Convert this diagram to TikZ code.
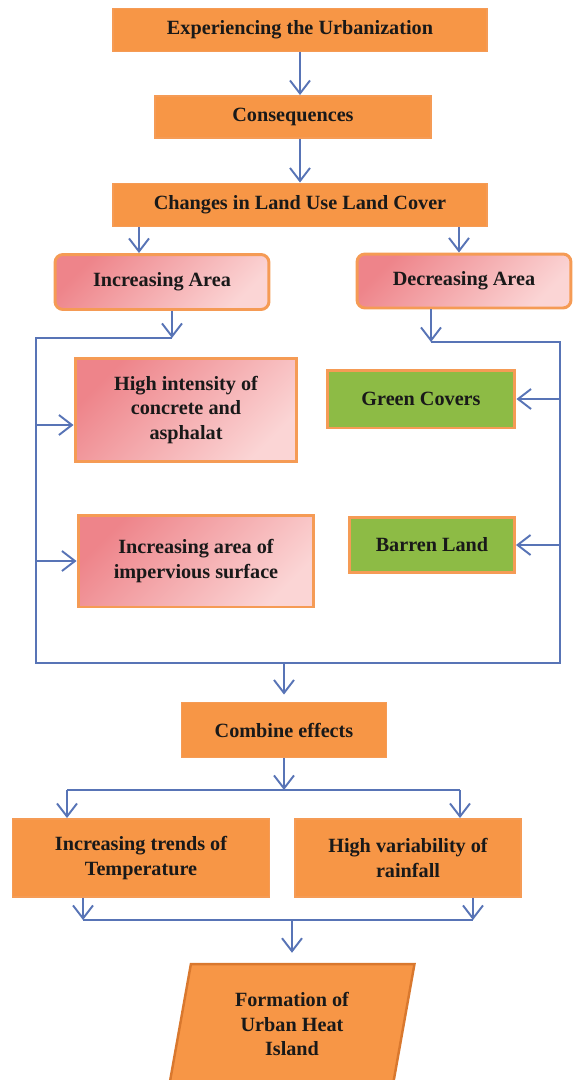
\documentclass[tikz,border=0pt]{standalone}
\usepackage{fontspec}
\setmainfont{Liberation Serif}
\usetikzlibrary{arrows.meta,shapes.geometric}
\definecolor{uhiorange}{HTML}{F79646}
\definecolor{uhiedge}{HTML}{F59B55}
\definecolor{uhidark}{HTML}{D9782E}
\definecolor{uhipinkA}{HTML}{EE848A}
\definecolor{uhipinkB}{HTML}{FBD5D5}
\definecolor{uhigreen}{HTML}{8DBB45}
\definecolor{uhiblue}{HTML}{5874B6}
\tikzset{
    uhibox/.style={draw=uhiedge, line width=1.1pt, fill=uhiorange, align=center,
        font=\bfseries\fontsize{11.5}{13.8}\selectfont, text=black!90, inner sep=2pt},
    pinkbox/.style={uhibox, line width=1.7pt, left color=uhipinkA, right color=uhipinkB,
        shading angle=45},
    greenbox/.style={uhibox, line width=1.7pt, fill=uhigreen},
    uhiarrow/.style={-{Straight Barb[length=2.6mm,width=4mm]}, draw=uhiblue, line width=1.1pt},
    uhiline/.style={draw=uhiblue, line width=1.1pt}
}

\begin{document}
\begin{tikzpicture}[x=0.02cm, y=-0.02cm]
\useasboundingbox (0,0) rectangle (574,1080);
% chain at the top
\node[uhibox, minimum width=7.5cm, minimum height=0.86cm] (urban) at (300,30) {Experiencing the Urbanization};
\node[uhibox, minimum width=5.52cm, minimum height=0.84cm] (conseq) at (293,117) {Consequences};
\node[uhibox, minimum width=7.5cm, minimum height=0.86cm] (lulc) at (300,205) {Changes in Land Use Land Cover};
\node[pinkbox, rounded corners=0.16cm, minimum width=4.28cm, minimum height=1.1cm] (incr) at (162,282) {Increasing Area};
\node[pinkbox, rounded corners=0.16cm, minimum width=4.28cm, minimum height=1.08cm] (decr) at (464,281) {Decreasing Area};
% what grows, what shrinks
\node[pinkbox, minimum width=4.44cm, minimum height=2.06cm] (concrete) at (186,410) {High intensity of\\concrete and\\asphalat};
\node[greenbox, minimum width=3.76cm, minimum height=1.16cm] (green) at (421,399) {Green Covers};
\node[pinkbox, minimum width=4.72cm, minimum height=1.84cm] (imperv) at (196,561) {Increasing area of\\impervious surface};
\node[greenbox, minimum width=3.3cm, minimum height=1.1cm] (barren) at (432,545) {Barren Land};
% effects
\node[uhibox, minimum width=4.1cm, minimum height=1.1cm] (combine) at (284,730) {Combine effects};
\node[uhibox, minimum width=5.14cm, minimum height=1.56cm] (temp) at (141,858) {Increasing trends of\\Temperature};
\node[uhibox, minimum width=4.52cm, minimum height=1.56cm] (rain) at (408,858) {High variability of\\rainfall};
\node[uhibox, draw=uhidark, line width=1.4pt, trapezium, trapezium left angle=73, trapezium right angle=107,
    trapezium stretches body, minimum width=4.9cm, minimum height=2.4cm] (uhi) at (292,1024) {Formation of\\Urban Heat\\Island};

\coordinate (railtl) at (36,338);
\coordinate (railbl) at (36,663);
\coordinate (railbr) at (560,663);
\coordinate (railtr) at (560,342);
\coordinate (splitl) at (67,790);
\coordinate (splitr) at (460,790);
\coordinate (merge) at (292,920);
\coordinate (incrin) at ([xshift=-0.46cm]incr.north);
\coordinate (decrin) at ([xshift=-0.1cm]decr.north);
\coordinate (incrout) at ([xshift=0.2cm]incr.south);
\coordinate (decrout) at ([xshift=-0.66cm]decr.south);
\coordinate (concin) at ([yshift=-0.3cm]concrete.west);
\coordinate (tempout) at ([xshift=-1.16cm]temp.south);
\coordinate (rainout) at ([xshift=1.3cm]rain.south);

\draw[uhiarrow] (urban.south) -- (urban.south |- conseq.north);
\draw[uhiarrow] (conseq.south -| lulc.north) -- (lulc.north);
\draw[uhiarrow] (incrin |- lulc.south) -- (incrin);
\draw[uhiarrow] (decrin |- lulc.south) -- (decrin);
% the frame round the middle
\draw[uhiarrow] (incrout) -- (incrout |- railtl);
\draw[uhiarrow] (decrout) -- (decrout |- railtr);
\draw[uhiline] (incrout |- railtl) -- (railtl) -- (railbl) -- (railbr) -- (railtr) -- (decrout |- railtr);
\draw[uhiarrow] (concin -| railtl) -- (concin);
\draw[uhiarrow] (imperv.west -| railtl) -- (imperv.west);
\draw[uhiarrow] (green.east -| railtr) -- (green.east);
\draw[uhiarrow] (barren.east -| railtr) -- (barren.east);
\draw[uhiarrow, shorten >=0.14cm] (combine.north |- railbl) -- (combine.north);
% split and merge
\draw[uhiarrow] (combine.south) -- (combine.south |- splitl);
\draw[uhiline] (splitl) -- (splitr);
\draw[uhiarrow] (splitl) -- (splitl |- temp.north);
\draw[uhiarrow] (splitr) -- (splitr |- rain.north);
\draw[uhiarrow] (tempout) -- (tempout |- merge);
\draw[uhiarrow] (rainout) -- (rainout |- merge);
\draw[uhiline] (tempout |- merge) -- (rainout |- merge);
\draw[uhiarrow, shorten >=0.2cm] (merge) -- (merge |- uhi.north);
\end{tikzpicture}
\end{document}
